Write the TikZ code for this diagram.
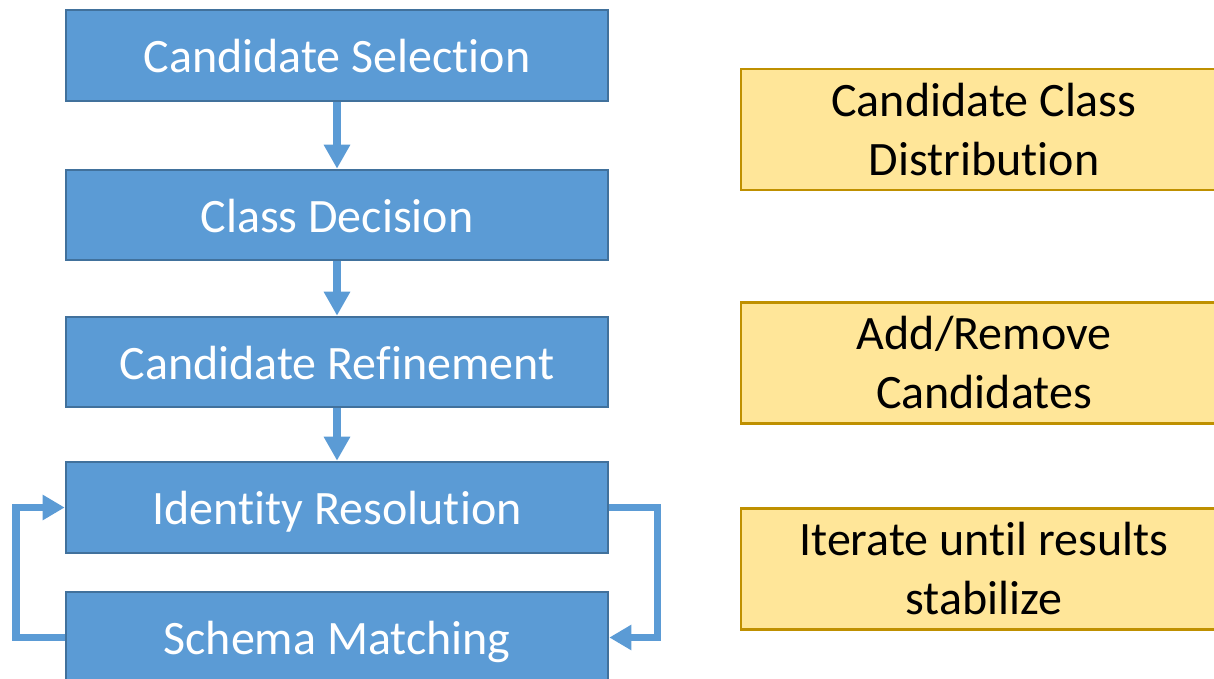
\documentclass[tikz,border=0pt]{standalone}
\usepackage{fontspec}
\setmainfont{Carlito}[RawFeature={-liga;-clig;-calt}]
\usetikzlibrary{arrows.meta}
% breaks a ligature between two letters
\newcommand{\nolig}{\kern0pt}
\definecolor{stepfill}{HTML}{5B9BD5}
\definecolor{stepline}{HTML}{41719C}
\definecolor{notefill}{HTML}{FFE699}
\definecolor{noteline}{HTML}{BF9000}
\tikzset{
  stepbox/.style={draw=stepline, line width=2.6pt, fill=stepfill, text=white,
    minimum width=542pt, minimum height=91pt, inner sep=0pt,
    text height=34pt, text depth=0pt,
    font=\fontsize{48}{59}\selectfont},
  notebox/.style={draw=noteline, line width=2.6pt, fill=notefill, text=black,
    minimum width=486pt, minimum height=121pt, inner sep=0pt, align=center,
    font=\fontsize{48}{59}\selectfont},
  flow/.style={draw=stepfill, line width=8.5pt,
    -{Triangle[length=24pt,width=25pt]}},
  loop/.style={draw=stepfill, line width=7.5pt, line join=miter,
    -{Triangle[length=22pt,width=24pt]}}
}
\begin{document}
\begin{tikzpicture}[x=1pt,y=-1pt]
  \useasboundingbox (0,0) rectangle (1214,679);
  \clip (0,0) rectangle (1214,679);

  % processing steps
  \node[stepbox] (cs) at (337,55.5) {Candidate Selec\nolig tion};
  \node[stepbox, minimum height=90pt] (cd) at (337,215) {Class Decision};
  \node[stepbox, minimum height=90pt] (cr) at (337,362) {Candidate Ref\nolig inement};
  \node[stepbox] (ir) at (337,507.5) {Iden\nolig tity Resolu\nolig tion};
  \node[stepbox] (sm) at (337,637.5) {Schema Matching};

  % notes
  \node[notebox] (na) at (984,129.5) {Candidate Class\\Distribu\nolig tion};
  \node[notebox] (nb) at (984,363) {Add/Remove\\Candidates};
  \node[notebox] (nc) at (984,569) {Iterate un\nolig til results\\stabilize};

  % flow between steps
  \draw[flow] (cs.south) -- (cd.north);
  \draw[flow] (cd.south) -- (cr.north);
  \draw[flow] (cr.south) -- (ir.north);

  % iteration loop
  \draw[loop] (sm.west) -- ++(-48.5,0) |- (ir.west);
  \draw[loop] (ir.east) -- ++(48,0) |- (sm.east);
\end{tikzpicture}
\end{document}
